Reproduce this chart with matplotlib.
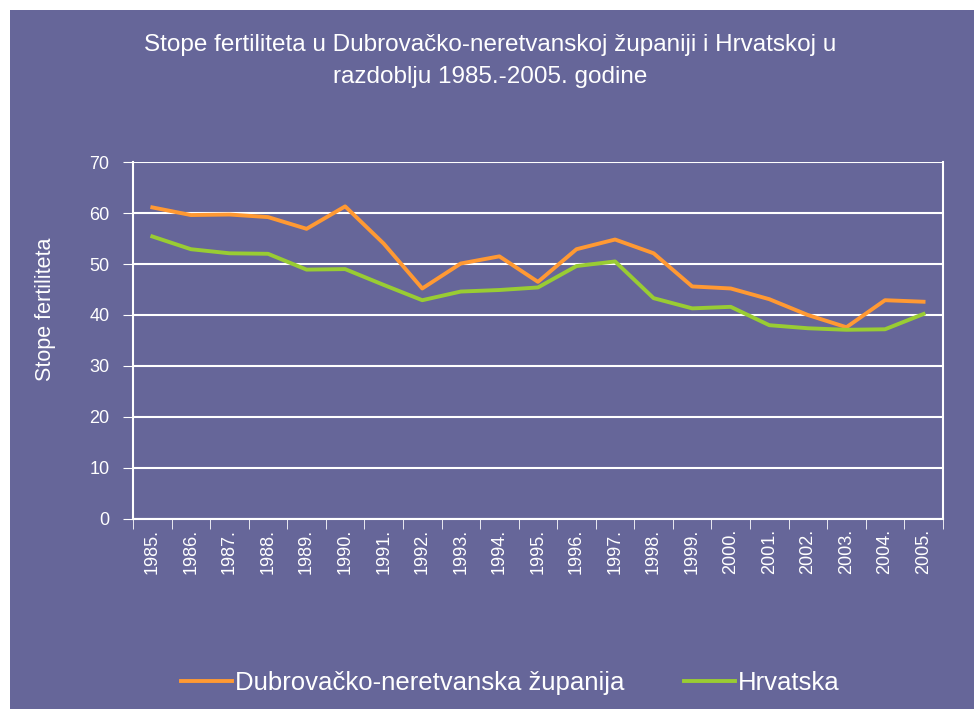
import numpy as np
import matplotlib
matplotlib.use('Agg')
import matplotlib.pyplot as plt
from matplotlib.patches import Rectangle

# podaci
godine = [f"{g}." for g in range(1985, 2006)]
dubrovnik = [61.1, 59.6, 59.7, 59.2, 56.9, 61.3, 54.0, 45.2, 50.1, 51.5, 46.5,
             52.9, 54.8, 52.1, 45.6, 45.2, 43.1, 40.0, 37.6, 42.9, 42.6]
hrvatska = [55.4, 52.9, 52.1, 52.0, 48.9, 49.0, 45.9, 42.9, 44.6, 44.9, 45.4,
            49.6, 50.5, 43.3, 41.3, 41.6, 38.0, 37.4, 37.1, 37.2, 40.2]
y_ticks = [0, 10, 20, 30, 40, 50, 60, 70]

bg = '#666699'
plt.rcParams['font.family'] = ['Liberation Sans', 'DejaVu Sans']

fig = plt.figure(figsize=(9.74, 7.09), dpi=100)
fig.patch.set_facecolor('white')
fig.patches.append(Rectangle((10 / 974, 0), 1 - 10 / 974, 1 - 10 / 709,
                             transform=fig.transFigure, facecolor=bg,
                             edgecolor='none', zorder=-10))

ax = fig.add_axes([0.1366, 0.268, 0.968 - 0.1366, 0.7715 - 0.268])
ax.set_facecolor(bg)

x = np.arange(len(godine))
ax.plot(x, dubrovnik, color='#ff9933', lw=2.8, label='Dubrovačko-neretvanska županija', zorder=3)
ax.plot(x, hrvatska, color='#99cc33', lw=2.8, label='Hrvatska', zorder=3)

ax.set_xlim(-0.5, len(godine) - 0.5)
ax.set_ylim(0, 70)
ax.set_yticks(y_ticks)
ax.yaxis.grid(True, color='white', lw=1.5)
ax.set_axisbelow(True)

ax.set_xticks(x)
ax.set_xticklabels(godine, rotation=90, color='white', fontsize=13)
ax.set_xticks(np.arange(-0.5, len(godine)), minor=True)
ax.tick_params(axis='x', which='major', length=0, pad=7)
ax.tick_params(axis='x', which='minor', length=7, color='white', direction='out')
ax.tick_params(axis='y', colors='white', labelsize=13, length=7, pad=10)

for s in ['left', 'right', 'bottom']:
    ax.spines[s].set_color('white')
    ax.spines[s].set_linewidth(1.5)
ax.spines['top'].set_visible(False)

fig.text(45 / 974, 1 - 309 / 709, 'Stope fertiliteta', rotation=90,
         ha='center', va='center', color='white', fontsize=15.5)

fig.text(0.503, 1 - 45 / 709, 'Stope fertiliteta u Dubrovačko-neretvanskoj županiji i Hrvatskoj u',
         ha='center', va='center', color='white', fontsize=17.5)
fig.text(0.503, 1 - 77 / 709, 'razdoblju 1985.-2005. godine',
         ha='center', va='center', color='white', fontsize=17.5)

leg = fig.legend(loc='center', bbox_to_anchor=(0.524, 0.036), ncol=2, frameon=False,
                 fontsize=18.5, handlelength=2.0, handletextpad=0.12, columnspacing=2.3)
for t in leg.get_texts():
    t.set_color('white')

fig.savefig('out.png', dpi=100, facecolor=fig.get_facecolor())
